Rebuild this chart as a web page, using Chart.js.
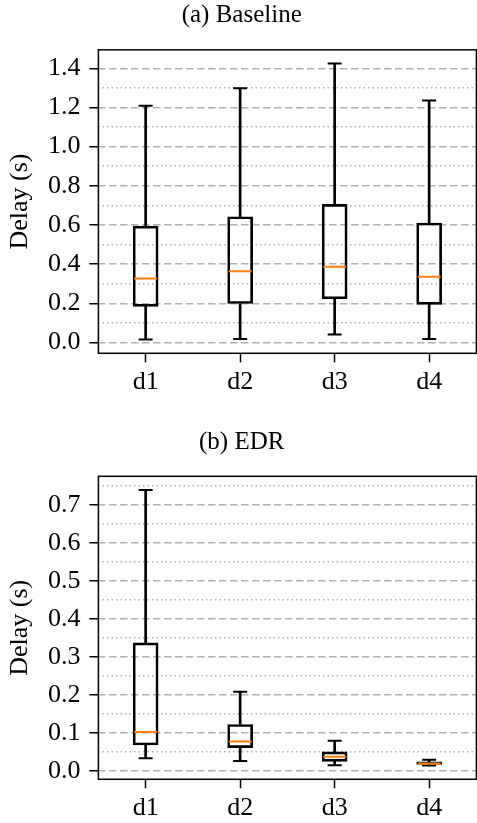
<!DOCTYPE html>
<html><head><meta charset="utf-8">
<script src="https://cdn.jsdelivr.net/npm/chart.js@4"></script>
<style>
body{margin:0;background:#fff}
canvas{display:block}
</style></head><body>
<canvas id="c1" width="477" height="400"></canvas>
<canvas id="c2" width="477" height="423"></canvas>
<script>
/* delay box plots, baseline vs EDR */
const CATS=['d1','d2','d3','d4'];
// (a) Baseline: whisker low, q1, median, q3, whisker high
const B_LO=[0.015,0.018,0.041,0.017];
const B_Q1=[0.184,0.199,0.223,0.194];
const B_MD=[0.327,0.364,0.386,0.335];
const B_Q3=[0.594,0.642,0.705,0.610];
const B_HI=[1.209,1.298,1.424,1.235];
// (b) EDR
const E_LO=[0.033,0.026,0.015,0.014];
const E_Q1=[0.068,0.061,0.025,0.017];
const E_MD=[0.102,0.077,0.037,0.019];
const E_Q3=[0.337,0.122,0.050,0.024];
const E_HI=[0.739,0.208,0.079,0.029];

const FF="'Liberation Serif','DejaVu Serif',serif",OR='#ff7f0e',GR='#b0b0b0',TR='rgba(0,0,0,0)';
const frame={id:'frame',afterDraw:function(c){
 var a=c.chartArea,x=c.ctx;x.save();x.strokeStyle='#000';x.lineWidth=1.5;
 x.strokeRect(a.left,a.top,a.right-a.left,a.bottom-a.top);x.restore()
}};
function pt(d,r,col){
 return{type:'line',data:d,showLine:false,pointStyle:'line',pointRadius:r,pointHoverRadius:r,
  borderColor:col,pointBorderColor:col,borderWidth:2,pointBorderWidth:2,pointHoverBorderWidth:2}
}
function bx(d,w,fill,bw){
 return{data:d,grouped:false,barThickness:w,backgroundColor:fill,borderColor:'#000',borderWidth:bw,borderSkipped:false}
}
function mk(id,ttl,lo,q1,md,q3,hi,st,L){
 var a=Math.min.apply(null,lo),b=Math.max.apply(null,hi),pd=(b-a)*0.05,mn=a-pd,mx=b+pd;
 function minor(v){return Math.abs(Math.round(v/st))%2===1}
 var F={family:FF,size:26};
 return new Chart(document.getElementById(id),{
  type:'bar',
  data:{labels:CATS,datasets:[
   pt(md,11.5,OR),pt(hi,7,'#000'),pt(lo,7,'#000'),
   bx(CATS.map(function(c,i){return[q1[i],q3[i]]}),25,TR,2),
   bx(CATS.map(function(c,i){return[lo[i],q1[i]]}),2,'#000',0),
   bx(CATS.map(function(c,i){return[q3[i],hi[i]]}),2,'#000',0)
  ]},
  options:{responsive:false,animation:false,
   layout:{autoPadding:false,padding:{left:7,right:0.6,top:0,bottom:0}},
   plugins:{legend:{display:false},tooltip:{enabled:false},
    title:{display:true,text:ttl,color:'#000',font:{family:FF,size:25,weight:'normal'},padding:L.tp}},
   scales:{
    x:{offset:true,afterFit:function(s){s.height=L.xh;s.paddingLeft=0;s.paddingRight=0},
     grid:{offset:false,drawOnChartArea:false,tickLength:9,tickColor:'#000',tickWidth:1.5},
     border:{display:false},ticks:{color:'#000',font:F,padding:4.3}},
    y:{min:mn,max:mx,afterFit:function(s){s.width=91.4},
     title:{display:true,text:'Delay (s)',color:'#000',font:F,padding:{top:-2.2,bottom:0}},
     ticks:{stepSize:st,includeBounds:false,color:'#000',font:F,padding:9,
      callback:function(v){return minor(v)?'':v.toFixed(1)}},
     grid:{lineWidth:1.5,tickLength:9,tickWidth:1.5,tickColor:'#000',
      color:function(c){return c.tick&&minor(c.tick.value)?TR:GR},
      tickBorderDash:function(c){return c.tick&&minor(c.tick.value)?[0,4,5,100]:[]}},
     border:{display:false,dash:[7.5,3.5]}},
    y2:{position:'left',min:mn,max:mx,afterFit:function(s){s.width=0},
     ticks:{display:false,stepSize:st,includeBounds:false},
     grid:{drawTicks:false,lineWidth:1.5,color:function(c){return c.tick&&minor(c.tick.value)?GR:TR}},
     border:{display:false,dash:[1.5,3]}}
   }},
  plugins:[frame]
 })
}
mk('c1','(a) Baseline',B_LO,B_Q1,B_MD,B_Q3,B_HI,0.1,{tp:{top:0,bottom:19.8},xh:46.7});
mk('c2','(b) EDR',E_LO,E_Q1,E_MD,E_Q3,E_HI,0.05,{tp:{top:27.7,bottom:18.6},xh:43.7});
</script>
</body></html>
